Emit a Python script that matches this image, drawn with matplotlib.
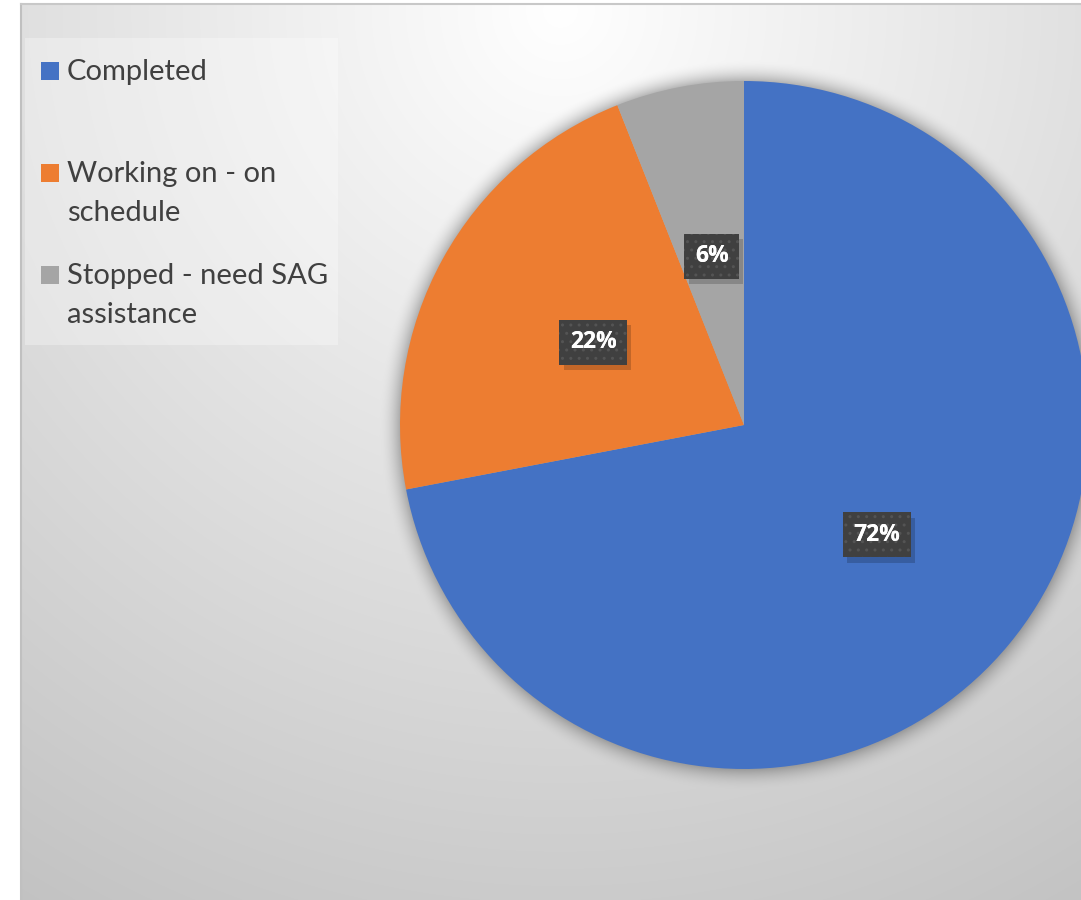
#!/usr/bin/env python3
"""Task status pie chart with Excel-like styling."""
import numpy as np
import matplotlib
matplotlib.use("Agg")
import matplotlib.pyplot as plt
import matplotlib.patches as mpatches
import matplotlib.patheffects as pe

categories = ["Completed", "Working on - on\nschedule", "Stopped - need SAG\nassistance"]
shares = [72, 22, 6]
colors = ["#4472C4", "#ED7D31", "#A5A5A5"]

W, H = 1081, 900
CX, CY, R = 744, 425, 344          # pie centre / radius in pixels

plt.rcParams["font.family"] = ["Lato", "DejaVu Sans"]
plt.rcParams["hatch.linewidth"] = 1.0

fig = plt.figure(figsize=(W / 100, H / 100), dpi=100)
fig.patch.set_facecolor("white")

# ── background panel: radial grey gradient + soft pie shadow ──────────────────
bg = fig.add_axes([0, 0, 1, 1], zorder=0)
bg.set_xlim(0, W)
bg.set_ylim(H, 0)
bg.axis("off")

yy, xx = np.mgrid[0:H, 0:W]
d = np.hypot(xx - 560, yy - 10) / 1030
shade = np.clip(255 - 60 * d, 190, 255) / 255
img = np.dstack([shade, shade, shade])
dist = np.hypot(xx - CX, yy - CY) - R
glow = np.clip(1 - dist / 22, 0, 1) ** 2 * 0.4
glow[dist < 0] = 0.4
img = img * (1 - glow[..., None]) + 0.3 * glow[..., None]
img[:, :21] = 1.0
img[:4, :] = 1.0
bg.imshow(img, extent=(0, W, H, 0), interpolation="bilinear")
bg.plot([21, 21], [H, 4], color="#c0c0c0", lw=1.5)
bg.plot([21, W], [4, 4], color="#c8c8c8", lw=1.5)

# ── legend (drawn by hand so markers align with the first text line) ──────────
bg.add_patch(mpatches.Rectangle((25, 38), 313, 307, facecolor="white",
                                alpha=0.3, edgecolor="none"))
legend_y = [71, 173, 275]
for lab, col, y in zip(categories, colors, legend_y):
    bg.add_patch(mpatches.Rectangle((41, y - 9), 18, 18, facecolor=col, edgecolor="none"))
    bg.text(67, y - 12, lab, fontsize=21, color="#404040", va="top", ha="left",
            linespacing=1.6)

# ── pie ──────────────────────────────────────────────────────────────────────
ax = fig.add_axes([0, 0, 1, 1], zorder=1)
ax.patch.set_alpha(0)
label_props = dict(color="white", fontsize=16.5, fontweight="bold",
                   family=["Open Sans", "DejaVu Sans"])
wedges, texts, autotexts = ax.pie(
    shares, colors=colors, startangle=90, counterclock=False,
    autopct="%d%%", pctdistance=0.5, radius=1,
    wedgeprops=dict(linewidth=0), textprops=label_props)
ax.set_aspect("auto")
ax.set_xlim(-CX / R, (W - CX) / R)
ax.set_ylim(-(H - CY) / R, CY / R)
ax.axis("off")

# dark label boxes: solid box with drop shadow, then a dotted overlay
for t in autotexts:
    t.set_bbox(dict(boxstyle="square,pad=0.46", facecolor="#404040",
                    edgecolor="none", linewidth=0))
    t.get_bbox_patch().set_path_effects(
        [pe.SimplePatchShadow(offset=(3, -4), shadow_rgbFace="black", alpha=0.18),
         pe.Normal()])
    x, y = t.get_position()
    ax.text(x, y, t.get_text(), ha="center", va="center", zorder=t.get_zorder() + 0.1,
            bbox=dict(boxstyle="square,pad=0.46", facecolor="none",
                      edgecolor="#545454", linewidth=0, hatch=".."),
            **label_props)

fig.savefig("out.png", dpi=100)
print("Saved out.png")
